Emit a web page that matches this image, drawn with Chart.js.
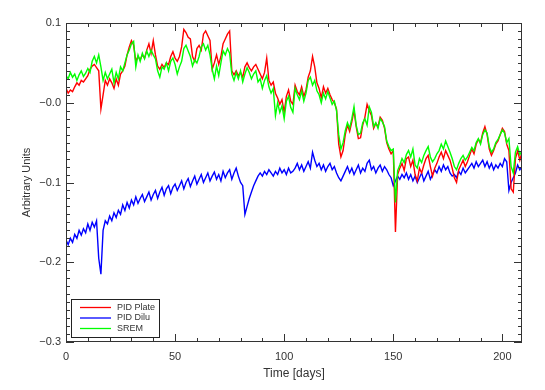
<!DOCTYPE html>
<html>
<head>
<meta charset="utf-8">
<script src="https://cdn.jsdelivr.net/npm/chart.js@4.4.1/dist/chart.umd.min.js"></script>
<style>
  html, body { margin: 0; padding: 0; background: #fff; }
  #wrap { width: 545px; height: 390px; }
</style>
</head>
<body>
<div id="wrap"><canvas id="chart" width="545" height="390"></canvas></div>
<script>
// one value per day, starting at day 0
const dayStep = 1;

const seriesNames = ["PID Plate", "PID Dilu", "SREM"];
const seriesColors = ["#ff0000", "#0000ff", "#00ff00"];

const pidPlate = [
  0.018, 0.012, 0.016, 0.014, 0.020, 0.025, 0.022, 0.028, 0.026, 0.030,
  0.034, 0.042, 0.046, 0.048, 0.044, 0.040, -0.008, 0.010, 0.028, 0.022,
  0.030, 0.025, 0.018, 0.030, 0.022, 0.036, 0.040, 0.046, 0.060, 0.070,
  0.078, 0.072, 0.052, 0.058, 0.054, 0.060, 0.056, 0.066, 0.074, 0.062,
  0.078, 0.060, 0.046, 0.042, 0.048, 0.044, 0.050, 0.048, 0.058, 0.064,
  0.056, 0.052, 0.058, 0.070, 0.092, 0.088, 0.082, 0.080, 0.058, 0.052,
  0.068, 0.072, 0.066, 0.086, 0.090, 0.084, 0.078, 0.042, 0.050, 0.060,
  0.048, 0.058, 0.074, 0.080, 0.086, 0.090, 0.040, 0.035, 0.040, 0.034,
  0.038, 0.032, 0.045, 0.050, 0.044, 0.040, 0.045, 0.048, 0.042, 0.036,
  0.030, 0.038, 0.056, 0.028, 0.022, 0.026, 0.012, 0.006, -0.002, 0.004,
  -0.012, 0.008, 0.016, 0.002, -0.002, 0.022, 0.014, 0.010, 0.020, 0.008,
  0.016, 0.032, 0.040, 0.058, 0.045, 0.025, 0.018, 0.006, 0.020, 0.012,
  0.018, 0.010, 0.004, 0.000, -0.008, -0.052, -0.068, -0.060, -0.040, -0.028,
  -0.036, -0.024, -0.010, -0.030, -0.045, -0.044, -0.028, -0.018, -0.002, -0.010,
  -0.016, -0.032, -0.026, -0.030, -0.018, -0.022, -0.032, -0.050, -0.058, -0.064,
  -0.060, -0.162, -0.090, -0.082, -0.076, -0.085, -0.070, -0.068, -0.080, -0.072,
  -0.090, -0.098, -0.082, -0.088, -0.078, -0.070, -0.066, -0.080, -0.092, -0.082,
  -0.076, -0.068, -0.062, -0.070, -0.060, -0.066, -0.072, -0.082, -0.094, -0.100,
  -0.084, -0.078, -0.072, -0.080, -0.074, -0.066, -0.058, -0.064, -0.052, -0.046,
  -0.050, -0.038, -0.030, -0.040, -0.058, -0.066, -0.060, -0.052, -0.048, -0.040,
  -0.032, -0.036, -0.052, -0.060, -0.108, -0.112, -0.070, -0.060, -0.072, -0.062
];

const pidDilu = [
  -0.172, -0.178, -0.170, -0.175, -0.165, -0.170, -0.160, -0.166, -0.158, -0.163,
  -0.152, -0.160, -0.150, -0.156, -0.148, -0.195, -0.215, -0.160, -0.148, -0.152,
  -0.142, -0.148, -0.138, -0.144, -0.135, -0.140, -0.128, -0.135, -0.125, -0.132,
  -0.122, -0.128, -0.118, -0.126, -0.120, -0.115, -0.124, -0.118, -0.112, -0.122,
  -0.115, -0.110, -0.120, -0.112, -0.106, -0.116, -0.108, -0.104, -0.114, -0.106,
  -0.102, -0.110, -0.104, -0.098, -0.108, -0.100, -0.095, -0.105, -0.098, -0.092,
  -0.102, -0.096, -0.090, -0.100, -0.094, -0.088, -0.098, -0.092, -0.087, -0.096,
  -0.090, -0.098, -0.086, -0.094, -0.088, -0.084, -0.096, -0.088, -0.082, -0.092,
  -0.100, -0.104, -0.140, -0.130, -0.120, -0.112, -0.104, -0.098, -0.092, -0.088,
  -0.092, -0.086, -0.090, -0.084, -0.088, -0.092, -0.086, -0.090, -0.082, -0.088,
  -0.084, -0.090, -0.082, -0.088, -0.086, -0.082, -0.076, -0.084, -0.078, -0.086,
  -0.080, -0.074, -0.082, -0.062, -0.072, -0.080, -0.076, -0.084, -0.078, -0.086,
  -0.080, -0.076, -0.084, -0.080, -0.088, -0.094, -0.098, -0.092, -0.086, -0.080,
  -0.088, -0.082, -0.090, -0.084, -0.078, -0.088, -0.082, -0.086, -0.076, -0.072,
  -0.084, -0.080, -0.088, -0.082, -0.078, -0.086, -0.080, -0.084, -0.090, -0.094,
  -0.104, -0.098, -0.092, -0.096, -0.090, -0.094, -0.088, -0.096, -0.090, -0.098,
  -0.092, -0.100, -0.094, -0.088, -0.098, -0.092, -0.086, -0.096, -0.090, -0.084,
  -0.088, -0.080, -0.086, -0.078, -0.084, -0.080, -0.088, -0.092, -0.090, -0.094,
  -0.086, -0.090, -0.082, -0.088, -0.084, -0.080, -0.076, -0.082, -0.074, -0.080,
  -0.076, -0.072, -0.080, -0.074, -0.082, -0.076, -0.084, -0.078, -0.082, -0.076,
  -0.080, -0.070, -0.074, -0.110, -0.100, -0.094, -0.088, -0.078, -0.084, -0.080
];

const srem = [
  0.034, 0.030, 0.038, 0.032, 0.036, 0.028, 0.035, 0.040, 0.033, 0.037,
  0.043, 0.038, 0.052, 0.058, 0.050, 0.060, 0.045, 0.028, 0.038, 0.030,
  0.036, 0.042, 0.025, 0.038, 0.030, 0.045, 0.040, 0.050, 0.060, 0.066,
  0.074, 0.077, 0.045, 0.060, 0.052, 0.062, 0.055, 0.065, 0.058, 0.066,
  0.060, 0.055, 0.040, 0.032, 0.045, 0.042, 0.050, 0.040, 0.052, 0.056,
  0.048, 0.036, 0.045, 0.052, 0.068, 0.072, 0.065, 0.058, 0.046, 0.054,
  0.050, 0.058, 0.070, 0.074, 0.066, 0.072, 0.060, 0.042, 0.030, 0.046,
  0.034, 0.050, 0.065, 0.060, 0.068, 0.062, 0.036, 0.028, 0.038, 0.030,
  0.040, 0.026, 0.036, 0.044, 0.038, 0.030, 0.036, 0.040, 0.026, 0.030,
  0.018, 0.028, 0.034, 0.020, 0.012, 0.018, -0.016, 0.000, -0.012, -0.004,
  -0.020, 0.002, 0.008, -0.006, -0.012, 0.018, 0.010, 0.004, 0.015, 0.002,
  0.012, 0.028, 0.032, 0.022, 0.028, 0.015, 0.010, 0.000, 0.012, 0.005,
  0.014, 0.006, -0.002, 0.002, -0.010, -0.040, -0.058, -0.050, -0.035, -0.025,
  -0.032, -0.020, -0.005, -0.028, -0.040, -0.038, -0.025, -0.020, -0.028, -0.005,
  -0.012, -0.030, -0.025, -0.032, -0.020, -0.024, -0.030, -0.048, -0.055, -0.060,
  -0.058, -0.125, -0.085, -0.078, -0.070, -0.075, -0.065, -0.060, -0.068, -0.058,
  -0.078, -0.082, -0.070, -0.075, -0.066, -0.060, -0.055, -0.068, -0.074, -0.070,
  -0.064, -0.060, -0.052, -0.058, -0.048, -0.055, -0.062, -0.070, -0.080, -0.084,
  -0.076, -0.070, -0.066, -0.072, -0.068, -0.062, -0.056, -0.060, -0.050, -0.045,
  -0.052, -0.040, -0.034, -0.038, -0.055, -0.062, -0.058, -0.050, -0.046, -0.040,
  -0.034, -0.038, -0.050, -0.045, -0.080, -0.088, -0.062, -0.055, -0.065, -0.060
];

const xTicks = [0, 50, 100, 150, 200];
const yTicks = [0.1, 0.0, -0.1, -0.2, -0.3];

const FONT = "'Liberation Sans', Arial, sans-serif";
const INK = '#333';

function toPoints(values) {
  return values.map((v, i) => ({ x: i * dayStep, y: v }));
}

function fmtY(v) {
  const r = Math.round(v * 10) / 10;
  if (r > 0) return r.toFixed(1);
  return '\u2212' + Math.abs(r).toFixed(1);
}

// IDL-style frame: box with inward ticks on all four sides, plus the legend box
const frame = {
  id: 'frame',
  afterDraw(chart) {
    const { ctx, chartArea: a, scales } = chart;
    const xs = scales.x, ys = scales.y;
    ctx.save();
    ctx.strokeStyle = '#333';
    ctx.lineWidth = 1;
    ctx.strokeRect(a.left + 0.5, a.top + 0.5, a.right - a.left - 1, a.bottom - a.top - 1);

    ctx.beginPath();
    for (let d = 0; d <= xs.max; d += 10) {
      const px = Math.round(xs.getPixelForValue(d)) + 0.5;
      const len = d % 50 === 0 ? 8 : 4;
      ctx.moveTo(px, a.bottom); ctx.lineTo(px, a.bottom - len);
      ctx.moveTo(px, a.top); ctx.lineTo(px, a.top + len);
    }
    for (let k = -30; k <= 10; k++) {
      const py = Math.round(ys.getPixelForValue(k / 100)) + 0.5;
      const len = k % 10 === 0 ? 8 : 4;
      ctx.moveTo(a.left, py); ctx.lineTo(a.left + len, py);
      ctx.moveTo(a.right, py); ctx.lineTo(a.right - len, py);
    }
    ctx.stroke();

    // legend
    const lx = 71.5, ly = 299.5, lw = 88, lh = 38;
    ctx.fillStyle = '#fff';
    ctx.fillRect(lx, ly, lw, lh);
    ctx.strokeStyle = '#222';
    ctx.strokeRect(lx, ly, lw, lh);
    ctx.font = '9px ' + FONT;
    ctx.textBaseline = 'middle';
    ctx.textAlign = 'left';
    seriesNames.forEach((name, i) => {
      const yy = 307.5 + i * 10.5;
      ctx.strokeStyle = seriesColors[i];
      ctx.lineWidth = 1.3;
      ctx.beginPath();
      ctx.moveTo(80, yy); ctx.lineTo(111, yy);
      ctx.stroke();
      ctx.fillStyle = INK;
      ctx.fillText(name, 117, yy);
    });
    ctx.restore();
  }
};

const datasets = [pidPlate, pidDilu, srem].map((vals, i) => ({
  label: seriesNames[i],
  data: toPoints(vals),
  borderColor: seriesColors[i],
  borderWidth: 1.4,
  pointRadius: 0,
  tension: 0,
  fill: false,
  order: [1, 2, 0][i]
}));

new Chart(document.getElementById('chart').getContext('2d'), {
  type: 'line',
  data: { datasets: datasets },
  options: {
    responsive: false,
    animation: false,
    layout: { padding: { left: 0, right: 23, top: 23, bottom: 0 } },
    plugins: {
      legend: { display: false },
      tooltip: { enabled: false }
    },
    scales: {
      x: {
        type: 'linear',
        min: 0,
        max: 209,
        afterFit: s => { s.height = 48; },
        afterBuildTicks: s => { s.ticks = xTicks.map(v => ({ value: v })); },
        grid: { display: false, drawTicks: false },
        border: { display: false },
        ticks: {
          padding: 8,
          maxRotation: 0,
          autoSkip: false,
          color: INK,
          font: { family: FONT, size: 11 },
          callback: v => String(v)
        },
        title: {
          display: true,
          text: 'Time [days]',
          color: INK,
          font: { family: FONT, size: 12 },
          padding: { top: 0, bottom: 9 }
        }
      },
      y: {
        type: 'linear',
        min: -0.3,
        max: 0.1,
        afterFit: s => { s.width = 66; },
        afterBuildTicks: s => { s.ticks = yTicks.map(v => ({ value: v })); },
        grid: { display: false, drawTicks: false },
        border: { display: false },
        ticks: {
          padding: 5,
          autoSkip: false,
          color: INK,
          font: { family: FONT, size: 11 },
          callback: v => fmtY(v)
        },
        title: {
          display: true,
          text: 'Arbitrary Units',
          color: INK,
          font: { family: FONT, size: 11 },
          padding: { top: 20, bottom: 0 }
        }
      }
    }
  },
  plugins: [frame]
});
</script>
</body>
</html>
